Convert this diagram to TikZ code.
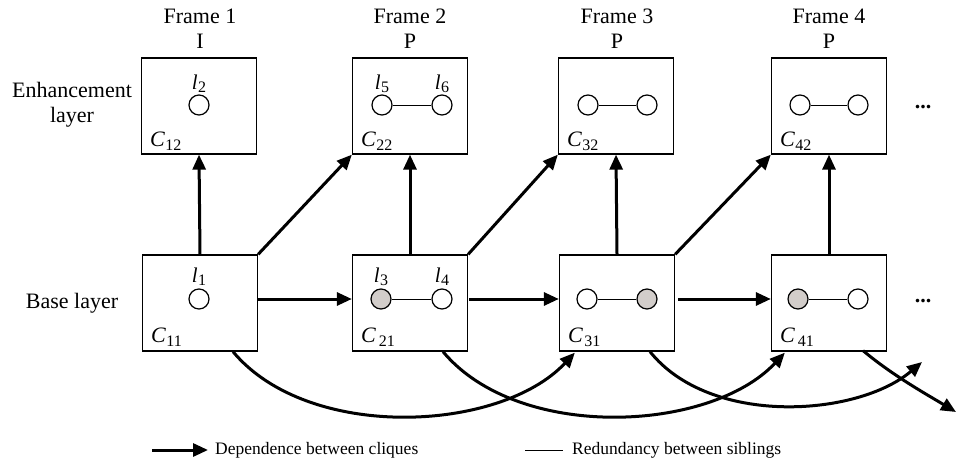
\documentclass[tikz,border=0pt]{standalone}
\usepackage{fontspec}
\setmainfont{Liberation Serif}
\usetikzlibrary{arrows.meta,calc}
\definecolor{shade}{RGB}{210,205,202}
\newcommand{\sublab}[3]{\textit{#1}\kern#3\raisebox{-0.16em}{\fontsize{16}{16}\selectfont #2}}
\begin{document}
\begin{tikzpicture}[x=1pt,y=-1pt,
  box/.style={draw,line width=1.3pt,minimum width=115pt,minimum height=96pt,inner sep=0},
  vert/.style={draw,circle,line width=1.2pt,minimum size=20pt,inner sep=0,fill=white},
  gvert/.style={vert,fill=shade},
  sib/.style={line width=0.9pt},
  dep/.style={line width=3pt,-{Triangle[length=15pt,width=13pt]}},
  lbl/.style={font=\fontsize{22}{24}\selectfont,inner sep=0,anchor=base},
  clab/.style={font=\fontsize{22}{24}\selectfont,inner sep=0,anchor=base west},
  llab/.style={font=\fontsize{21}{24}\selectfont,inner sep=0,anchor=base},
  leg/.style={font=\fontsize{17.5}{20}\selectfont,inner sep=0,anchor=west}
]
\useasboundingbox (0,0) rectangle (960,463);

% frame headings
\node[lbl] (f1) at (200,23) {Frame 1};
\node[lbl] (t1) at (200,48) {I};
\node[lbl] (f2) at (410,23) {Frame 2};
\node[lbl] (t2) at (410,48) {P};
\node[lbl] (f3) at (617,23) {Frame 3};
\node[lbl] (t3) at (617,48) {P};
\node[lbl] (f4) at (829,23) {Frame 4};
\node[lbl] (t4) at (829,48) {P};

% layer labels
\node[lbl] (enh1) at (72,97) {Enhancement};
\node[lbl] (enh2) at (72,122) {layer};
\node[lbl] (base) at (72,308) {Base layer};

% boxes
\node[box] (C12) at (199,106) {};
\node[box] (C22) at (410,106) {};
\node[box] (C32) at (616,106) {};
\node[box] (C42) at (829,106) {};
\node[box] (C11) at (200,303) {};
\node[box] (C21) at (410,303) {};
\node[box] (C31) at (617,303) {};
\node[box] (C41) at (829,303) {};

% clique labels
\node[clab] (c12l) at ($(C12.south west)+(9,-8)$) {\sublab{C}{12}{0.5pt}};
\node[clab] (c22l) at ($(C22.south west)+(9,-8)$) {\sublab{C}{22}{0.5pt}};
\node[clab] (c32l) at ($(C32.south west)+(9,-8)$) {\sublab{C}{32}{0.5pt}};
\node[clab] (c42l) at ($(C42.south west)+(9,-8)$) {\sublab{C}{42}{0.5pt}};
\node[clab] (c11l) at ($(C11.south west)+(9,-9)$) {\sublab{C}{11}{0.5pt}};
\node[clab] (c21l) at ($(C21.south west)+(9,-9)$) {\sublab{C}{21}{3pt}};
\node[clab] (c31l) at ($(C31.south west)+(9,-9)$) {\sublab{C}{31}{1.5pt}};
\node[clab] (c41l) at ($(C41.south west)+(9,-9)$) {\sublab{C}{41}{3pt}};

% vertices
\node[vert] (v2) at (199,105) {};
\node[vert] (v5) at (382,105) {};
\node[vert] (v6) at (442,105) {};
\node[vert] (v7) at (588,105) {};
\node[vert] (v8) at (647,105) {};
\node[vert] (v9) at (800,105) {};
\node[vert] (v10) at (858,105) {};
\node[vert] (v1) at (199,299) {};
\node[gvert] (v3) at (381,299) {};
\node[vert] (v4) at (442,299) {};
\node[vert] (v11) at (587,299) {};
\node[gvert] (v12) at (647,299) {};
\node[gvert] (v13) at (798,299) {};
\node[vert] (v14) at (858,299) {};

\draw[sib] (v5) -- (v6);
\draw[sib] (v7) -- (v8);
\draw[sib] (v9) -- (v10);
\draw[sib] (v3) -- (v4);
\draw[sib] (v11) -- (v12);
\draw[sib] (v13) -- (v14);

% vertex labels
\node[llab] (l2) at (199,89) {\sublab{l}{2}{0.3pt}};
\node[llab] (l5) at (382,89) {\sublab{l}{5}{0.3pt}};
\node[llab] (l6) at (442,89) {\sublab{l}{6}{0.3pt}};
\node[llab] (l1) at (199,282) {\sublab{l}{1}{0.3pt}};
\node[llab] (l3) at (381,282) {\sublab{l}{3}{0.3pt}};
\node[llab] (l4) at (442,282) {\sublab{l}{4}{0.3pt}};

% ellipses
\node[lbl] (d1) at (923,108) {\textbf{...}};
\node[lbl] (d2) at (923,302) {\textbf{...}};

% vertical dependencies
\draw[dep] (C11.north) -- (C12.south);
\draw[dep] (C21.north) -- (C22.south);
\draw[dep] (C31.north) -- (C32.south);
\draw[dep] (C41.north) -- (C42.south);

% diagonal dependencies
\draw[dep] (C11.north east) -- (C22.south west);
\draw[dep] (C21.north east) -- (C32.south west);
\draw[dep] (C31.north east) -- (C42.south west);

% horizontal dependencies
\draw[dep] ($(C11.east)+(0,-4)$) -- ($(C21.west)+(0,-4)$);
\draw[dep] ($(C21.east)+(1,-4)$) -- ($(C31.west)+(0,-4)$);
\draw[dep] ($(C31.east)+(3,-4)$) -- ($(C41.west)+(0,-4)$);

% skip dependencies
\coordinate (outA) at (922,362);
\coordinate (outB) at (956,412);
\draw[dep] ($(C11.south)+(33,0)$) .. controls +(75,90) and +(-75,80) .. ($(C31.south west)+(16,1)$);
\draw[dep] ($(C21.south)+(33,0)$) .. controls +(75,90) and +(-75,80) .. ($(C41.south west)+(14,1)$);
\draw[dep] ($(C31.south)+(33,0)$) .. controls +(60,75) and +(-65,55) .. (outA);
\draw[dep] ($(C41.south)+(34,-1)$) .. controls +(30,25) and +(-30,-18) .. (outB);

% legend
\coordinate (la) at (152,450);
\coordinate (lb) at (208,450);
\draw[dep] (la) -- (lb);
\node[leg] (lt1) at (215,450) {Dependence between cliques};
\coordinate (lc) at (525,450);
\coordinate (ld) at (563,450);
\draw[sib] (lc) -- (ld);
\node[leg] (lt2) at (572,450) {Redundancy between siblings};
\end{tikzpicture}
\end{document}
